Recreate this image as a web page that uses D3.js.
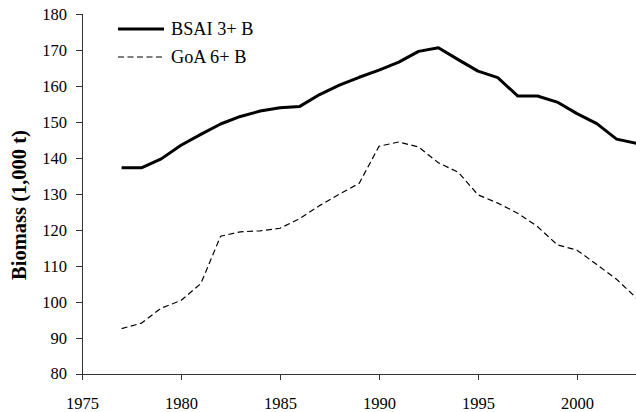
<!DOCTYPE html>
<html>
<head>
<meta charset="utf-8">
<script src="https://cdn.jsdelivr.net/npm/d3@7"></script>
<style>
  html, body { margin: 0; padding: 0; background: #fff; }
  svg { display: block; }
  svg text { font-family: "Liberation Serif", "Times New Roman", serif !important; fill: #000; }
</style>
</head>
<body>
<svg id="chart" width="636" height="412"></svg>
<script>
// Annual biomass estimates (1,000 t)
const years = d3.range(1977, 2004);
const bsai = [137.2, 137.2, 139.7, 143.5, 146.5, 149.4, 151.5, 153.0, 153.9, 154.3,
              157.6, 160.2, 162.4, 164.4, 166.6, 169.6, 170.6, 167.3, 164.1, 162.3,
              157.2, 157.2, 155.5, 152.3, 149.5, 145.2, 144.0];
const goa  = [92.5, 94.0, 98.2, 100.3, 105.0, 118.2, 119.4, 119.7, 120.4, 123.1,
              126.7, 129.9, 132.9, 143.2, 144.4, 143.0, 138.6, 136.0, 129.7, 127.4,
              124.6, 120.9, 115.8, 114.3, 110.3, 106.2, 101.0];
const seriesNames = ["BSAI 3+ B", "GoA 6+ B"];
const xTicks = [1975, 1980, 1985, 1990, 1995, 2000];
const yTicks = [80, 90, 100, 110, 120, 130, 140, 150, 160, 170, 180];
const yTitle = "Biomass (1,000 t)";

const svg = d3.select("#chart");

const x = d3.scaleLinear().domain([1975, 2005]).range([82, 676]);
const y = d3.scaleLinear().domain([80, 180]).range([373.5, 14]);

// Axes
const xAxis = d3.axisBottom(x).tickValues(xTicks).tickFormat(d3.format("d"))
  .tickSizeOuter(0).tickSize(6).tickPadding(18);
const yAxis = d3.axisLeft(y).tickValues(yTicks).tickSizeOuter(0).tickSize(6).tickPadding(9);

const gx = svg.append("g").attr("transform", `translate(0,${y(80)})`).call(xAxis);
const gy = svg.append("g").attr("transform", `translate(${x(1975)},0)`).call(yAxis);

[gx, gy].forEach(g => {
  g.attr("font-family", null);
  g.selectAll("path, line").attr("stroke", "#333").attr("stroke-width", 1).attr("shape-rendering", "crispEdges");
  g.selectAll("text").style("font-size", "16.5px").attr("fill", "#000");
});
gy.selectAll("text").attr("dy", "0.33em");

// Axis title
svg.append("text")
  .attr("transform", "translate(25.5,205) rotate(-90)")
  .attr("text-anchor", "middle")
  .style("font-size", "20.5px")
  .style("font-weight", "bold")
  .text(yTitle);

// Lines
const line = d3.line().x(d => x(d[0])).y(d => y(d[1]));

svg.append("path")
  .datum(years.map((yr, i) => [yr, bsai[i]]))
  .attr("fill", "none").attr("stroke", "#000").attr("stroke-width", 3)
  .attr("stroke-linejoin", "round")
  .attr("d", line);

svg.append("path")
  .datum(years.map((yr, i) => [yr, goa[i]]))
  .attr("fill", "none").attr("stroke", "#000").attr("stroke-width", 1.2)
  .attr("stroke-dasharray", "6,3.5")
  .attr("d", line);

// Legend
const legend = svg.append("g");
const rows = [
  { name: seriesNames[0], cy: 29, base: 35, width: 3, dash: null },
  { name: seriesNames[1], cy: 57, base: 62.5, width: 1.2, dash: "6,3.5" }
];
rows.forEach(r => {
  legend.append("line")
    .attr("x1", 118).attr("x2", 164).attr("y1", r.cy).attr("y2", r.cy)
    .attr("stroke", "#000").attr("stroke-width", r.width)
    .attr("stroke-dasharray", r.dash);
  legend.append("text")
    .attr("x", 171).attr("y", r.base)
    .style("font-size", "18.3px")
    .text(r.name);
});
</script>
</body>
</html>
